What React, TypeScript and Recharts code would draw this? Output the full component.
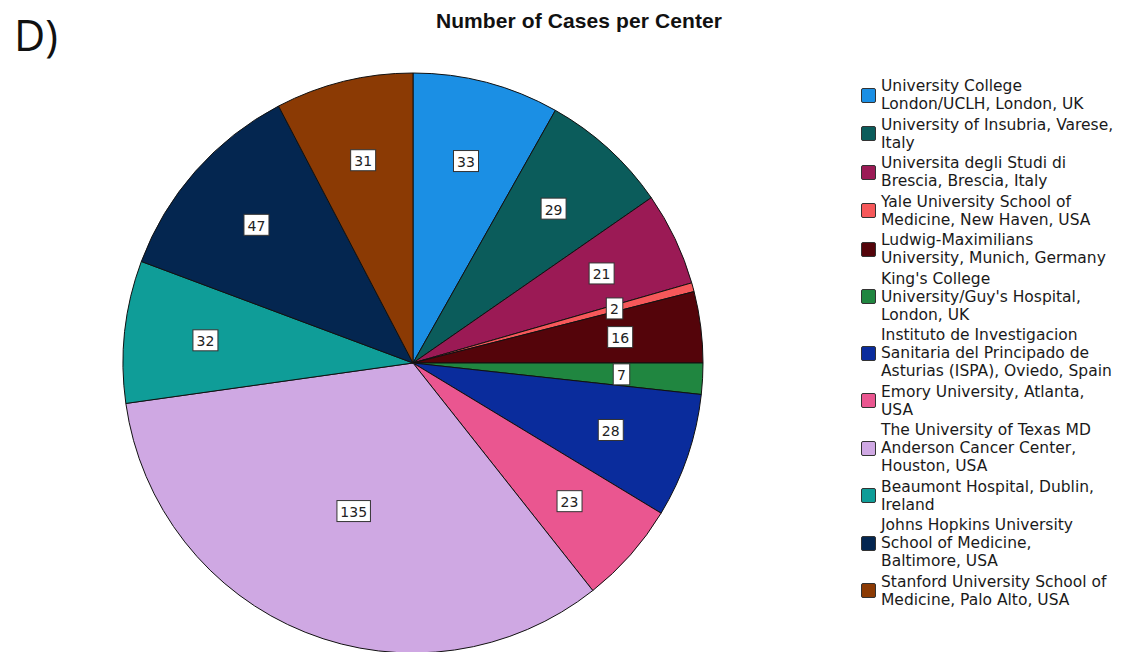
import { Cell, Legend, Pie, PieChart } from 'recharts';

const centers = [
  'University College London/UCLH, London, UK',
  'University of Insubria, Varese, Italy',
  'Universita degli Studi di Brescia, Brescia, Italy',
  'Yale University School of Medicine, New Haven, USA',
  'Ludwig-Maximilians University, Munich, Germany',
  "King's College University/Guy's Hospital, London, UK",
  'Instituto de Investigacion Sanitaria del Principado de Asturias (ISPA), Oviedo, Spain',
  'Emory University, Atlanta, USA',
  'The University of Texas MD Anderson Cancer Center, Houston, USA',
  'Beaumont Hospital, Dublin, Ireland',
  'Johns Hopkins University School of Medicine, Baltimore, USA',
  'Stanford University School of Medicine, Palo Alto, USA',
];

const cases = [33, 29, 21, 2, 16, 7, 28, 23, 135, 32, 47, 31];

const colors = [
  '#1b8fe4',
  '#0b5c5b',
  '#9b1a55',
  '#f6585a',
  '#54040a',
  '#208640',
  '#0a2c9c',
  '#ea5690',
  '#cfa8e3',
  '#0f9d98',
  '#042650',
  '#8b3a04',
];

// line breaks as they appear in the legend
const legendLines = [
  ['University College', 'London/UCLH, London, UK'],
  ['University of Insubria, Varese,', 'Italy'],
  ['Universita degli Studi di', 'Brescia, Brescia, Italy'],
  ['Yale University School of', 'Medicine, New Haven, USA'],
  ['Ludwig-Maximilians', 'University, Munich, Germany'],
  ["King's College", "University/Guy's Hospital,", 'London, UK'],
  ['Instituto de Investigacion', 'Sanitaria del Principado de', 'Asturias (ISPA), Oviedo, Spain'],
  ['Emory University, Atlanta,', 'USA'],
  ['The University of Texas MD', 'Anderson Cancer Center,', 'Houston, USA'],
  ['Beaumont Hospital, Dublin,', 'Ireland'],
  ['Johns Hopkins University', 'School of Medicine,', 'Baltimore, USA'],
  ['Stanford University School of', 'Medicine, Palo Alto, USA'],
];

const data = centers.map((name, i) => ({ name, value: cases[i] }));

const RAD = Math.PI / 180;

function renderLabel(props: any) {
  const { cx, cy, midAngle, outerRadius, percent, value } = props;
  const r = outerRadius * (percent > 0.25 ? 0.55 : 0.72);
  const x = cx + r * Math.cos(-midAngle * RAD);
  const y = cy + r * Math.sin(-midAngle * RAD);
  const w = String(value).length * 8.5 + 8;
  return (
    <g>
      <rect x={x - w / 2} y={y - 10.5} width={w} height={21} fill="#fff" stroke="#333" strokeWidth={1} />
      <text
        x={x}
        y={y + 1}
        textAnchor="middle"
        dominantBaseline="central"
        fontSize={14}
        fontFamily="DejaVu Sans, sans-serif"
        fill="#222"
      >
        {value}
      </text>
    </g>
  );
}

function LegendBox() {
  return (
    <div style={{ fontFamily: 'DejaVu Sans, sans-serif', fontSize: 15.5, lineHeight: '18px', color: '#1a1a1a' }}>
      {legendLines.map((lines, i) => (
        <div key={i} style={{ display: 'flex', alignItems: 'center', marginBottom: 2.5 }}>
          <span
            style={{
              width: 15,
              height: 15,
              background: colors[i],
              border: '1px solid #333',
              borderRadius: 2,
              boxSizing: 'border-box',
              marginRight: 5,
              flexShrink: 0,
            }}
          />
          <div>
            {lines.map((l, j) => (
              <div key={j} style={{ whiteSpace: 'nowrap' }}>{l}</div>
            ))}
          </div>
        </div>
      ))}
    </div>
  );
}

export default function App() {
  return (
    <div style={{ position: 'absolute', left: 0, top: 0, width: 1136, height: 652, background: '#fff', overflow: 'hidden' }}>
      <div
        style={{
          position: 'absolute',
          left: 14,
          top: 8,
          fontFamily: 'Open Sans, sans-serif',
          fontSize: 43,
          color: '#111',
          lineHeight: '54px',
        }}
      >
        D)
      </div>
      <div
        style={{
          position: 'absolute',
          left: 379,
          width: 400,
          top: 9,
          textAlign: 'center',
          fontFamily: 'Liberation Sans, sans-serif',
          fontWeight: 'bold',
          fontSize: 21,
          letterSpacing: 0.1,
          color: '#111',
        }}
      >
        Number of Cases per Center
      </div>
      <PieChart
        width={1136}
        height={652}
        margin={{ top: 0, right: 0, bottom: 0, left: 0 }}
        style={{ position: 'absolute', left: 0, top: 0 }}
      >
        <Pie
          data={data}
          dataKey="value"
          nameKey="name"
          cx={413}
          cy={363}
          outerRadius={290}
          startAngle={90}
          endAngle={-270}
          stroke="#111"
          strokeWidth={1}
          label={renderLabel}
          labelLine={false}
          isAnimationActive={false}
        >
          {data.map((d, i) => (
            <Cell key={d.name} fill={colors[i]} />
          ))}
        </Pie>
        <Legend
          content={() => <LegendBox />}
          wrapperStyle={{ position: 'absolute', left: 861, top: 77, width: 275 }}
        />
      </PieChart>
    </div>
  );
}
